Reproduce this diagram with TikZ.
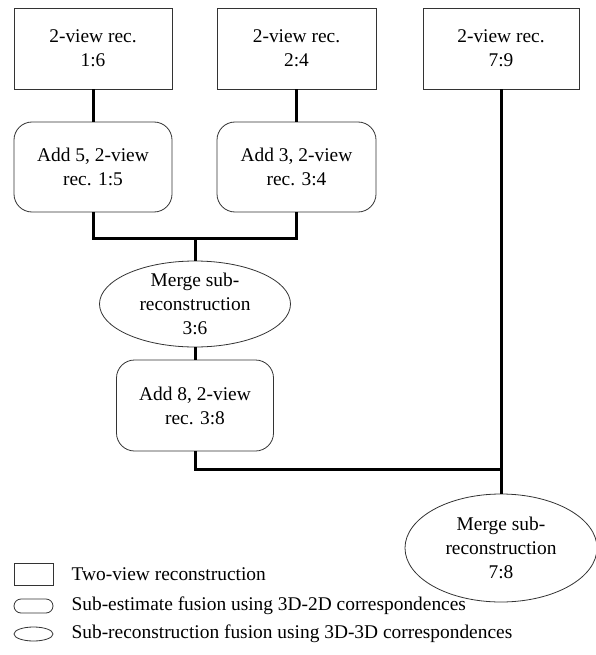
\documentclass[tikz,border=0pt]{standalone}
\usepackage{fontspec}
\setmainfont{Liberation Serif}
\usepackage{xcolor}
\usepackage{tikz}
\usetikzlibrary{positioning}
\usetikzlibrary{shapes}
\definecolor{boxgray}{HTML}{333333}

\begin{document}
\begin{tikzpicture}[x=1pt, y=-1pt,
        link/.style={line width=3pt, draw=black, line join=miter},
        twoview/.style={rectangle, minimum width=158pt, minimum height=81pt},
        fusion/.style={rectangle, rounded corners=18pt, minimum width=158pt, minimum height=90pt},
        merge/.style={ellipse, inner ysep=-10pt, inner xsep=-10pt, minimum width=191pt, minimum height=86pt}]
        \useasboundingbox (0,0) rectangle (596,655);
        \begin{scope}[every node/.style={
            draw=boxgray,
            line width=0.8pt,
            inner sep=0pt,
            align=center,
            font=\fontsize{19.4}{24}\selectfont}]
            \node[twoview] (r16) at (93,48.5) {2-view rec.\\1:6};
            \node[twoview, minimum width=159pt] (r24) at (296.5,48.5) {2-view rec.\\2:4};
            \node[twoview, minimum width=156pt] (r79) at (501,48.5) {2-view rec.\\7:9};
            \node[fusion] (a15) at (93,167) {Add 5, 2-view\\rec. 1:5};
            \node[fusion, minimum width=159pt] (a34) at (296.5,167) {Add 3, 2-view\\rec. 3:4};
            \node[merge] (m36) at (195,304) {Merge sub-\\reconstruction\\3:6};
            \node[fusion, minimum width=157pt, minimum height=91pt] (a38) at (195,405.5) {Add 8, 2-view\\rec. 3:8};
            \node[merge, minimum width=192pt, minimum height=108pt] (m78) at (501,548) {Merge sub-\\reconstruction\\7:8};
            % legend
            \node[twoview, minimum width=39pt, minimum height=22pt] (k1) at (33.5,574) {};
            \node[fusion, rounded corners=7pt, minimum width=39pt, minimum height=14pt] (k2) at (33.5,606) {};
            \node[merge, minimum width=39pt, minimum height=14pt] (k3) at (33.5,634) {};
        \end{scope}
        \begin{scope}[every node/.style={inner sep=0pt, font=\fontsize{19.4}{24}\selectfont}]
            \node[right=18pt of k1] (t1) {Two-view reconstruction};
            \node[right=18pt of k2] (t2) {Sub-estimate fusion using 3D-2D correspondences};
            \node[right=18pt of k3] (t3) {Sub-reconstruction fusion using 3D-3D correspondences};
        \end{scope}
        \coordinate (j1) at (195,238);
        \coordinate (j2) at (501,469);
        \draw[link] (r16) -- (a15);
        \draw[link] (r24) -- (a34);
        \draw[link] (a15.south) |- (j1) -| (a34.south);
        \draw[link] (j1) -- (m36);
        \draw[link] (m36) -- (a38);
        \draw[link] (a38.south) |- (j2);
        \draw[link] (r79) -- (m78);
    \end{tikzpicture}
\end{document}
